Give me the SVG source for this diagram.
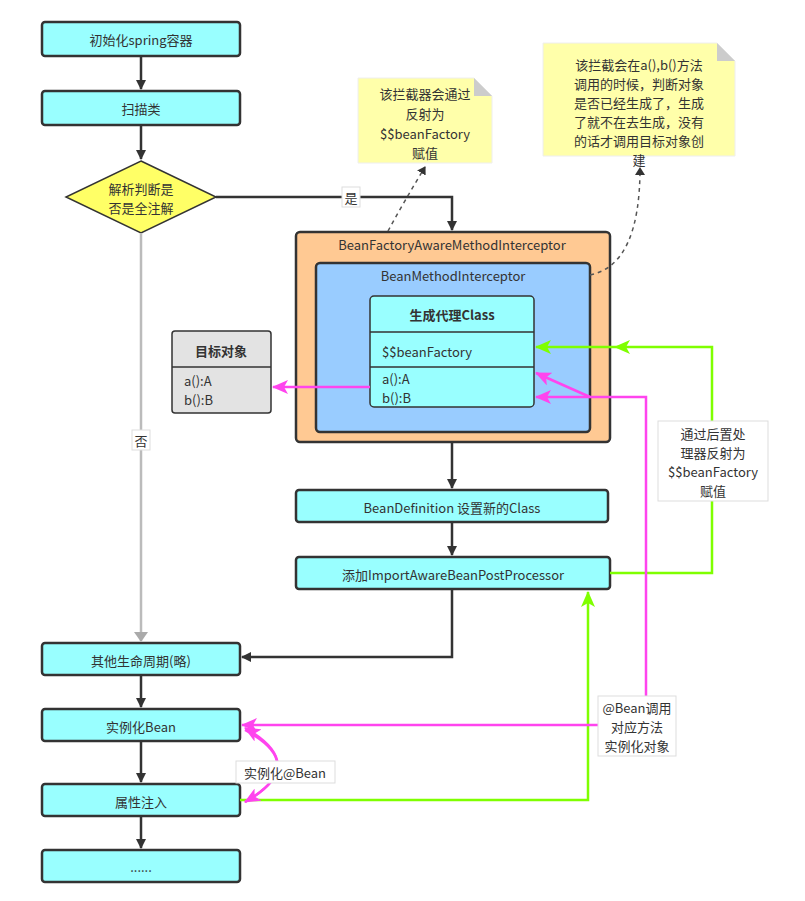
<svg xmlns="http://www.w3.org/2000/svg" width="805" height="901" viewBox="0 0 805 901">
<style>
text{font-family:"Noto Sans CJK SC","Noto Sans",sans-serif;font-size:13px;fill:#333;text-anchor:middle;dominant-baseline:central}
.b{fill:#99ffff;stroke:#333;stroke-width:2.5}
.k{fill:none;stroke:#333;stroke-width:2.5}
.g{fill:none;stroke:#7fff00;stroke-width:2.5}
.m{fill:none;stroke:#ff44ee;stroke-width:2.5}
.n{fill:#ffffaa;stroke:#eee}
.lbl{fill:#fff;stroke:#ddd}
</style>
<defs>
<marker id="ak" markerWidth="10" markerHeight="10" refX="9" refY="5" orient="auto" markerUnits="userSpaceOnUse" viewBox="0 0 10 10"><path d="M0,0L10,5L0,10z" fill="#333"/></marker>
<marker id="ag" markerWidth="16" markerHeight="14" refX="15" refY="7" orient="auto" markerUnits="userSpaceOnUse" viewBox="0 0 16 14"><path d="M0,0L16,7L0,14L4,7z" fill="#7fff00"/></marker>
<marker id="am" markerWidth="16" markerHeight="14" refX="15" refY="7" orient="auto" markerUnits="userSpaceOnUse" viewBox="0 0 16 14"><path d="M0,0L16,7L0,14L4,7z" fill="#ff44ee"/></marker>
<marker id="ay" markerWidth="10" markerHeight="14" refX="9" refY="7" orient="auto" markerUnits="userSpaceOnUse" viewBox="0 0 10 14"><path d="M0,0L10,7L0,14z" fill="#aaa"/></marker>
<marker id="ad" markerWidth="8" markerHeight="10" refX="7" refY="5" orient="auto" markerUnits="userSpaceOnUse" viewBox="0 0 8 10"><path d="M0,0L8,5L0,10z" fill="#333"/></marker>
</defs>
<g id="n1"><rect class="b" x="42" y="22" width="198" height="34" rx="3"/><text x="141" y="39">初始化spring容器</text></g>
<g id="n2"><rect class="b" x="42" y="91" width="198" height="34" rx="3"/><text x="141" y="108">扫描类</text></g>
<g id="n3"><path d="M141,161L216,197L141,233L66,197z" fill="#ffff66" stroke="#333" stroke-width="1.5"/><text x="141" y="188">解析判断是</text><text x="141" y="207">否是全注解</text></g>
<g id="n4"><rect x="296" y="232" width="314" height="210" rx="4" fill="#ffc993" stroke="#333" stroke-width="2.5"/><text x="452" y="244">BeanFactoryAwareMethodInterceptor</text></g>
<g id="n5"><rect x="316" y="263" width="274" height="169" rx="4" fill="#99ccff" stroke="#333" stroke-width="2.5"/><text x="453" y="275">BeanMethodInterceptor</text></g>
<g id="n6"><rect x="370" y="296" width="164" height="111" rx="4" fill="#99ffff" stroke="#333" stroke-width="1.5"/>
<path d="M370,332H534M370,367H534" stroke="#333" stroke-width="1.5"/>
<text x="452" y="314" font-weight="bold">生成代理Class</text>
<text x="382" y="351" style="text-anchor:start">$$beanFactory</text>
<text x="382" y="378" style="text-anchor:start">a():A</text><text x="382" y="397" style="text-anchor:start">b():B</text></g>
<g id="n7"><rect x="172" y="331" width="99" height="82" rx="3" fill="#e3e3e3" stroke="#333" stroke-width="1.5"/>
<path d="M172,367H271" stroke="#333" stroke-width="1.5"/>
<text x="221" y="350" font-weight="bold">目标对象</text>
<text x="184" y="380" style="text-anchor:start">a():A</text><text x="184" y="399" style="text-anchor:start">b():B</text></g>
<g id="n8"><rect class="b" x="296" y="490" width="312" height="32" rx="3"/><text x="452" y="507">BeanDefinition 设置新的Class</text></g>
<g id="n9"><rect class="b" x="296" y="557" width="314" height="32" rx="3"/><text x="453" y="574">添加ImportAwareBeanPostProcessor</text></g>
<g id="n10"><rect class="b" x="42" y="643" width="198" height="32" rx="3"/><text x="141" y="660">其他生命周期(略)</text></g>
<g id="n11"><rect class="b" x="42" y="709" width="198" height="32" rx="3"/><text x="141" y="726">实例化Bean</text></g>
<g id="n12"><rect class="b" x="42" y="784" width="198" height="32" rx="3"/><text x="141" y="801">属性注入</text></g>
<g id="n13"><rect class="b" x="42" y="850" width="198" height="32" rx="3"/><text x="141" y="866">......</text></g>
<g id="note1"><path class="n" d="M358,78H474L492,96V163H358z"/><path d="M474,78V96H492z" fill="#ccc"/>
<text x="425" y="93">该拦截器会通过</text><text x="425" y="113">反射为</text><text x="425" y="133">$$beanFactory</text><text x="425" y="152">赋值</text></g>
<g id="note2"><path class="n" d="M543,43H717L735,61V156H543z"/><path d="M717,43V61H735z" fill="#ccc"/>
<text x="639" y="64">该拦截会在a(),b()方法</text><text x="639" y="83">调用的时候，判断对象</text><text x="639" y="102">是否已经生成了，生成</text><text x="639" y="121">了就不在去生成，没有</text><text x="639" y="140">的话才调用目标对象创</text><text x="639" y="159">建</text></g>
<g id="connectors">
<path class="k" d="M141,56V89" marker-end="url(#ak)"/>
<path class="k" d="M141,125V159" marker-end="url(#ak)"/>
<path class="k" d="M216,197H452V230" marker-end="url(#ak)"/>
<rect x="342" y="187" width="18" height="20" class="lbl"/><text x="351" y="197">是</text>
<path d="M141,233V641" fill="none" stroke="#bbb" stroke-width="2.5" marker-end="url(#ay)"/>
<rect x="132" y="430" width="18" height="20" class="lbl"/><text x="141" y="440">否</text>
<path class="m" d="M370,387H273" marker-end="url(#am)"/>
<path class="k" d="M452,442V488" marker-end="url(#ak)"/>
<path class="k" d="M452,522V555" marker-end="url(#ak)"/>
<path class="k" d="M452,589V657H242" marker-end="url(#ak)"/>
<path class="k" d="M141,675V707" marker-end="url(#ak)"/>
<path class="k" d="M141,741V782" marker-end="url(#ak)"/>
<path class="k" d="M141,816V848" marker-end="url(#ak)"/>
<path class="g" d="M610,573H712V347H615" marker-end="url(#ag)"/>
<path class="g" d="M615,347H536" marker-end="url(#ag)"/>
<path class="g" d="M240,800H588V592" marker-end="url(#ag)"/>
<path class="m" d="M646,697V397H590"/>
<path class="m" d="M590,397H536" marker-end="url(#am)"/>
<path class="m" d="M590,397L536,373" marker-end="url(#am)"/>
<path class="m" d="M598,725H242" marker-end="url(#am)"/>
<path class="m" d="M245,730Q310,765 245,802" marker-end="url(#am)"/>
<path class="m" d="M245,802Q310,765 245,728" marker-end="url(#am)"/>
<rect x="236" y="761" width="99" height="22" class="lbl"/><text x="285" y="772">实例化@Bean</text>
<path d="M388,231Q405,200 425,167" fill="none" stroke="#555" stroke-width="1.5" stroke-dasharray="4,4" marker-end="url(#ad)"/>
<path d="M590,275Q640,265 640,168" fill="none" stroke="#555" stroke-width="1.5" stroke-dasharray="4,4" marker-end="url(#ad)"/>
<rect x="658" y="421" width="110" height="80" class="lbl"/>
<text x="713" y="433">通过后置处</text><text x="713" y="452">理器反射为</text><text x="713" y="471">$$beanFactory</text><text x="713" y="490">赋值</text>
<rect x="598" y="696" width="78" height="60" class="lbl"/>
<text x="637" y="707">@Bean调用</text><text x="637" y="726">对应方法</text><text x="637" y="745">实例化对象</text>
</g>
</svg>
